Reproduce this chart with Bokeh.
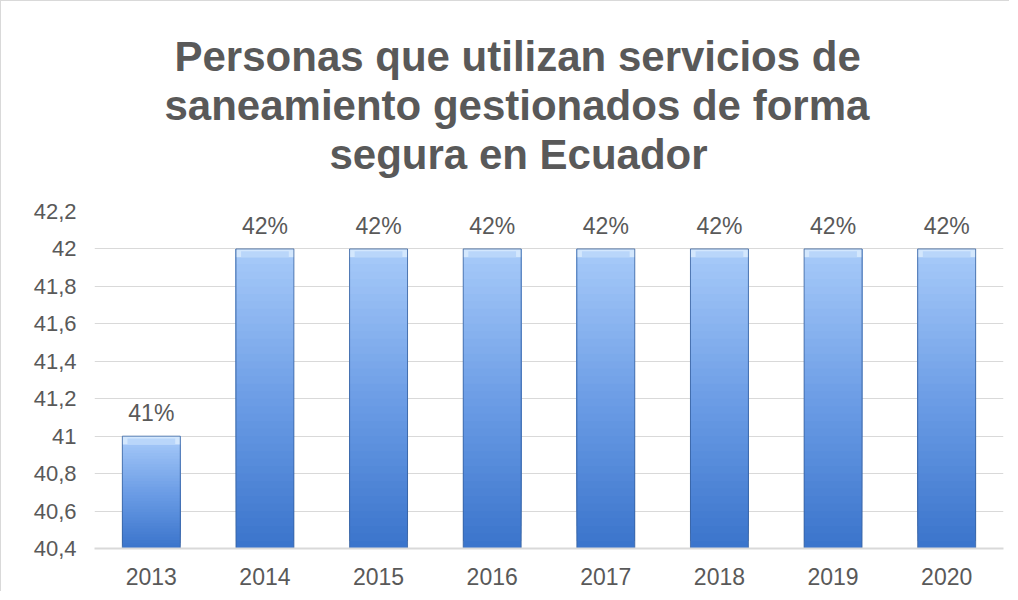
from bokeh.plotting import figure
from bokeh.models import FixedTicker, Title, ColumnDataSource, Range1d
from bokeh.core.properties import value
from bokeh.embed import file_html
from bokeh.resources import INLINE

years = ["2013", "2014", "2015", "2016", "2017", "2018", "2019", "2020"]
values = [41, 42, 42, 42, 42, 42, 42, 42]
labels = ["41%", "42%", "42%", "42%", "42%", "42%", "42%", "42%"]
y_ticks = [40.4, 40.6, 40.8, 41.0, 41.2, 41.4, 41.6, 41.8, 42.0, 42.2]
y_tick_labels = ["40,4", "40,6", "40,8", "41", "41,2", "41,4", "41,6", "41,8", "42", "42,2"]
title_lines = ["Personas que utilizan servicios de",
               "saneamiento gestionados de forma",
               "segura en Ecuador"]
title_offsets = [80, 70, 235]

Y0, Y1 = 40.4, 42.2
FONT = "Liberation Sans"
TXT = "#595959"

p = figure(x_range=years, y_range=Range1d(Y0, Y1), width=1009, height=591,
           output_backend="svg", toolbar_location=None,
           min_border_left=93, min_border_right=7, min_border_bottom=44, min_border_top=210)

# spacer between title and frame
p.add_layout(Title(text=" ", text_font=FONT, text_font_size="29px", standoff=0), "above")
for line, off in reversed(list(zip(title_lines, title_offsets))):
    p.add_layout(Title(text=line, align="left", text_font=FONT, text_font_size="42px",
                       text_font_style="bold", text_color=TXT, standoff=0, offset=off), "above")

# gradient bars built from values (overlapping slices, no seams)
N = 40
def lerp(c1, c2, t):
    return "#%02x%02x%02x" % tuple(int(round(a + (b - a) * t)) for a, b in zip(c1, c2))

bottom_c = (0x3a, 0x74, 0xcb)
mid_c = (0x6c, 0x9d, 0xe6)
top_c = (0xa8, 0xcb, 0xf9)
xs, bots, tops, cols = [], [], [], []
for i in range(N):
    f = (i + 0.5) / N
    if f < 0.5:
        c = lerp(bottom_c, mid_c, f / 0.5)
    else:
        c = lerp(mid_c, top_c, (f - 0.5) / 0.5)
    for yr, v in zip(years, values):
        h = v - Y0
        xs.append(yr); bots.append(Y0 + h * i / N); tops.append(v); cols.append(c)
p.vbar(x=xs, bottom=bots, top=tops, width=0.51, fill_color=cols, line_color=None)

# top bevel highlight
bev_b = [v - 0.045 for v in values]
p.vbar(x=years, bottom=bev_b, top=values, width=0.51, fill_color="#d8eafd",
       fill_alpha=0.9, line_color=None)
p.vbar(x=years, bottom=bev_b, top=[v - 0.012 for v in values], width=0.42, fill_color="#b6d4fa",
       fill_alpha=0.9, line_color=None)
# outline
p.vbar(x=years, bottom=Y0, top=values, width=0.51, fill_color=None,
       line_color="#345e9a", line_width=1, line_alpha=0.75)

src = ColumnDataSource(dict(x=years, y=values, t=labels))
p.text(x="x", y="y", text="t", source=src, text_align="center", text_baseline="alphabetic",
       y_offset=-23, text_font=value(FONT), text_font_size="23px", text_color=TXT)

p.yaxis.ticker = FixedTicker(ticks=y_ticks)
p.yaxis.major_label_overrides = {t: l for t, l in zip(y_ticks, y_tick_labels)}
p.yaxis.axis_line_color = None
p.yaxis.major_tick_line_color = None
p.yaxis.minor_tick_line_color = None
p.yaxis.major_label_standoff = 12
p.xaxis.axis_line_color = "#d9d9d9"
p.xaxis.axis_line_width = 2
p.xaxis.major_tick_line_color = None
p.xaxis.minor_tick_line_color = None
p.xaxis.major_label_standoff = 13
p.xaxis.major_label_text_font_size = "23px"
p.yaxis.major_label_text_font_size = "22px"
for ax in (p.xaxis, p.yaxis):
    ax.major_label_text_font = FONT
    ax.major_label_text_color = TXT
p.xgrid.grid_line_color = None
p.ygrid.grid_line_color = "#d9d9d9"
p.ygrid.grid_line_width = 1
p.ygrid.ticker = FixedTicker(ticks=y_ticks)
p.x_range.range_padding = 0
p.outline_line_color = None
p.styles = {"border-left": "1px solid #d9d9d9", "border-top": "1px solid #d9d9d9"}

open("out.html", "w").write(file_html(p, INLINE))
